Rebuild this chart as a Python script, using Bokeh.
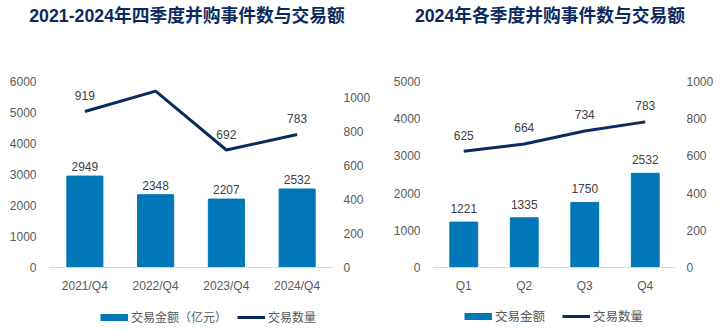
from bokeh.plotting import figure
from bokeh.models import (ColumnDataSource, Range1d, LinearAxis, FixedTicker,
                          LabelSet, Label, Legend, LegendItem)
from bokeh.layouts import row, column
from bokeh.core.properties import value
from bokeh.embed import file_html
from bokeh.resources import INLINE

# ---- data ----
quarters_a = ["2021/Q4", "2022/Q4", "2023/Q4", "2024/Q4"]
amount_a = [2949, 2348, 2207, 2532]
count_a = [919, 1039, 692, 783]

quarters_b = ["Q1", "Q2", "Q3", "Q4"]
amount_b = [1221, 1335, 1750, 2532]
count_b = [625, 664, 734, 783]

title_a = "2021-2024年四季度并购事件数与交易额"
title_b = "2024年各季度并购事件数与交易额"
legend_bar_a = "交易金额（亿元）"
legend_bar_b = "交易金额"
legend_line = "交易数量"

left_ticks_a = [0, 1000, 2000, 3000, 4000, 5000, 6000]
right_ticks_a = [0, 200, 400, 600, 800, 1000]
left_ticks_b = [0, 1000, 2000, 3000, 4000, 5000]
right_ticks_b = [0, 200, 400, 600, 800, 1000]

BAR = "#0077b6"
LINE = "#0b2b5e"
TICK = "#595959"
LAB = "#404040"
LATIN = "'Liberation Sans', 'Noto Sans CJK SC'"
CJK = "'Noto Sans CJK SC'"


def make_chart(cats, amounts, counts, lticks, rticks, lmax, rmax, width,
               height, mb, bar_w, bar_off, line_off):
    src = ColumnDataSource(dict(cat=cats, amt=amounts, cnt=counts,
                                amt_s=[str(v) for v in amounts],
                                cnt_s=[str(v) for v in counts]))
    p = figure(x_range=cats, y_range=Range1d(0, lmax), width=width,
               height=height, output_backend="svg", toolbar_location=None,
               min_border_left=mb[0], min_border_right=mb[1],
               min_border_top=mb[2], min_border_bottom=mb[3])
    p.extra_y_ranges = {"cnt": Range1d(0, rmax)}
    p.outline_line_color = None
    p.xgrid.visible = False
    p.ygrid.visible = False
    p.border_fill_color = "white"

    p.vbar(x="cat", top="amt", width=bar_w, source=src, color=BAR)
    p.line(x="cat", y="cnt", source=src, y_range_name="cnt",
           line_width=3, color=LINE)

    ra = LinearAxis(y_range_name="cnt")
    p.add_layout(ra, "right")

    for ax, ticks, so in ((p.yaxis[0], lticks, 7), (ra, rticks, 5)):
        ax.ticker = FixedTicker(ticks=ticks)
        ax.axis_line_color = None
        ax.major_tick_line_color = None
        ax.minor_tick_line_color = None
        ax.major_label_standoff = so
        ax.major_label_text_font = LATIN
        ax.major_label_text_font_size = "12px"
        ax.major_label_text_color = TICK

    xa = p.xaxis[0]
    xa.axis_line_color = "#d9d9d9"
    xa.axis_line_width = 1
    xa.major_tick_line_color = None
    xa.minor_tick_line_color = None
    xa.major_label_standoff = 5
    xa.major_label_text_font = LATIN
    xa.major_label_text_font_size = "12px"
    xa.major_label_text_color = TICK

    p.add_layout(LabelSet(x="cat", y="amt", text="amt_s", source=src,
                          text_align="center", text_baseline="bottom",
                          y_offset=bar_off, text_font=value(LATIN),
                          text_font_size=value("12px"), text_color=LAB))
    p.add_layout(LabelSet(x="cat", y="cnt", text="cnt_s", source=src,
                          y_range_name="cnt", text_align="center",
                          text_baseline="middle", y_offset=line_off,
                          text_font=value(LATIN),
                          text_font_size=value("12px"), text_color=LAB))
    return p


# ---- title strip ----
ts = figure(width=726, height=30, x_range=Range1d(0, 726),
            y_range=Range1d(30, 0), output_backend="svg",
            toolbar_location=None, x_axis_location=None,
            y_axis_location=None, min_border=0)
ts.outline_line_color = None
ts.xgrid.visible = False
ts.ygrid.visible = False
for tx, cx in ((title_a, 186.5), (title_b, 549.5)):
    ts.add_layout(Label(x=cx, y=15.5, text=tx, text_align="center",
                        text_baseline="middle", text_font=LATIN,
                        text_font_style="bold", text_font_size="17.75px",
                        text_color=LINE))

# ---- charts ----
p1 = make_chart(quarters_a, amount_a, count_a, left_ticks_a, right_ticks_a,
                6000, 1000 * 189 / 172.5, 380, 270, (49, 48, 51, 30),
                0.51, 5, 16)
p2 = make_chart(quarters_b, amount_b, count_b, left_ticks_b, right_ticks_b,
                5000, 1000, 346, 270, (53, 51, 45, 33), 0.46, 9, 16)

# ---- legend strip (swatch renderers use series data that lies outside
#      this strip's visible range, so only their legend glyphs show) ----
ls = figure(width=726, height=30, x_range=Range1d(0, 726),
            y_range=Range1d(0, 30), output_backend="svg",
            toolbar_location=None, x_axis_location=None,
            y_axis_location=None, min_border=0)
ls.outline_line_color = None
ls.xgrid.visible = False
ls.ygrid.visible = False
for bar_name, amts, cnts, loc, sp, fs in (
        (legend_bar_a, amount_a, count_a, (100, 5), 10, "12px"),
        (legend_bar_b, amount_b, count_b, (464, 5), 17, "12.5px")):
    sw_bar = ls.line(x=amts, y=amts, line_width=7, color=BAR,
                     line_cap="butt")
    sw_line = ls.line(x=cnts, y=cnts, line_width=3, color=LINE)
    leg = Legend(items=[LegendItem(label=bar_name, renderers=[sw_bar]),
                        LegendItem(label=legend_line, renderers=[sw_line])],
                 orientation="horizontal", location=loc,
                 padding=0, margin=0, spacing=sp,
                 glyph_width=28, glyph_height=16, label_standoff=3,
                 border_line_color=None, background_fill_alpha=0,
                 label_text_font=CJK, label_text_font_size=fs,
                 label_text_color=TICK)
    ls.add_layout(leg, "center")

layout = column(ts, row(p1, p2), ls)
open("out.html", "w").write(file_html(layout, INLINE))
